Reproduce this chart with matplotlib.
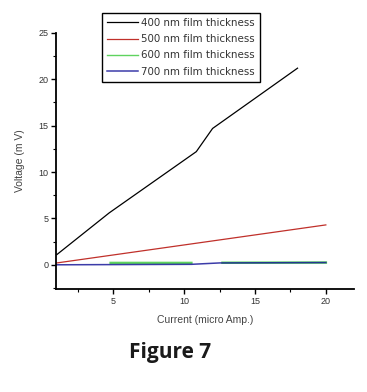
import numpy as np
import matplotlib
matplotlib.use("Agg")
import matplotlib.pyplot as plt
from matplotlib.ticker import MultipleLocator

plt.rcParams['font.family'] = ['Liberation Sans', 'DejaVu Sans']

# data
x_400 = [1, 4.7, 10.85, 12.0, 18.0]
v_400 = [1.1, 5.6, 12.2, 14.7, 21.2]

x_500 = [1, 20]
v_500 = [0.2, 4.3]

x_600 = [4.8, 10.5, np.nan, 12.7, 20]
v_600 = [0.2, 0.2, np.nan, 0.22, 0.24]

x_700 = [1, 10.5, 12.5, 20]
v_700 = [0.0, 0.05, 0.2, 0.24]

labels = ["400 nm film thickness", "500 nm film thickness",
          "600 nm film thickness", "700 nm film thickness"]

fig = plt.figure(figsize=(3.67, 3.92), dpi=100)
ax = fig.add_axes([0.153, 0.263, 0.812, 0.653])

l1, = ax.plot(x_400, v_400, color='black', lw=0.9)
l2, = ax.plot(x_500, v_500, color='#c0302a', lw=0.9)
l3, = ax.plot(x_600, v_600, color='#5fd35f', lw=1.8)
l4, = ax.plot(x_700, v_700, color='#1a1a9a', lw=1.1, alpha=0.85)

ax.set_xlim(0.95, 22)
ax.set_ylim(-2.6, 25)
ax.xaxis.set_major_locator(MultipleLocator(5))
ax.xaxis.set_minor_locator(MultipleLocator(2.5))
ax.yaxis.set_major_locator(MultipleLocator(5))
ax.yaxis.set_minor_locator(MultipleLocator(2.5))
ax.set_xticks([5, 10, 15, 20])

for s in ['top', 'right']:
    ax.spines[s].set_visible(False)
for s in ['left', 'bottom']:
    ax.spines[s].set_linewidth(1.3)

ax.tick_params(which='major', direction='out', length=3.5, width=1,
               labelsize=6.5, labelcolor='#333333', pad=2)
ax.tick_params(which='minor', direction='out', length=2, width=0.8)

ax.set_xlabel("Current (micro Amp.)", fontsize=7.5, color='#444444', labelpad=7)
ax.set_ylabel("Voltage (m V)", fontsize=7.5, color='#444444', labelpad=10)

leg = fig.legend([l1, l2, l3, l4], labels, loc='upper left',
                 bbox_to_anchor=(0.278, 0.967), frameon=True,
                 prop={'family': 'DejaVu Sans', 'size': 7.4},
                 fancybox=False, edgecolor='black', framealpha=1,
                 handlelength=3.0, handletextpad=0.3, borderpad=0.5,
                 labelspacing=0.6, borderaxespad=0)
for t in leg.get_texts():
    t.set_color('#333333')
leg.get_lines()[2].set_linewidth(1.0)

fig.text(0.463, 0.088, "Figure 7", fontsize=15, fontweight='bold',
         family=['Open Sans', 'DejaVu Sans'], color='#1a1a1a', ha='center')

fig.savefig("out.png", dpi=100)
